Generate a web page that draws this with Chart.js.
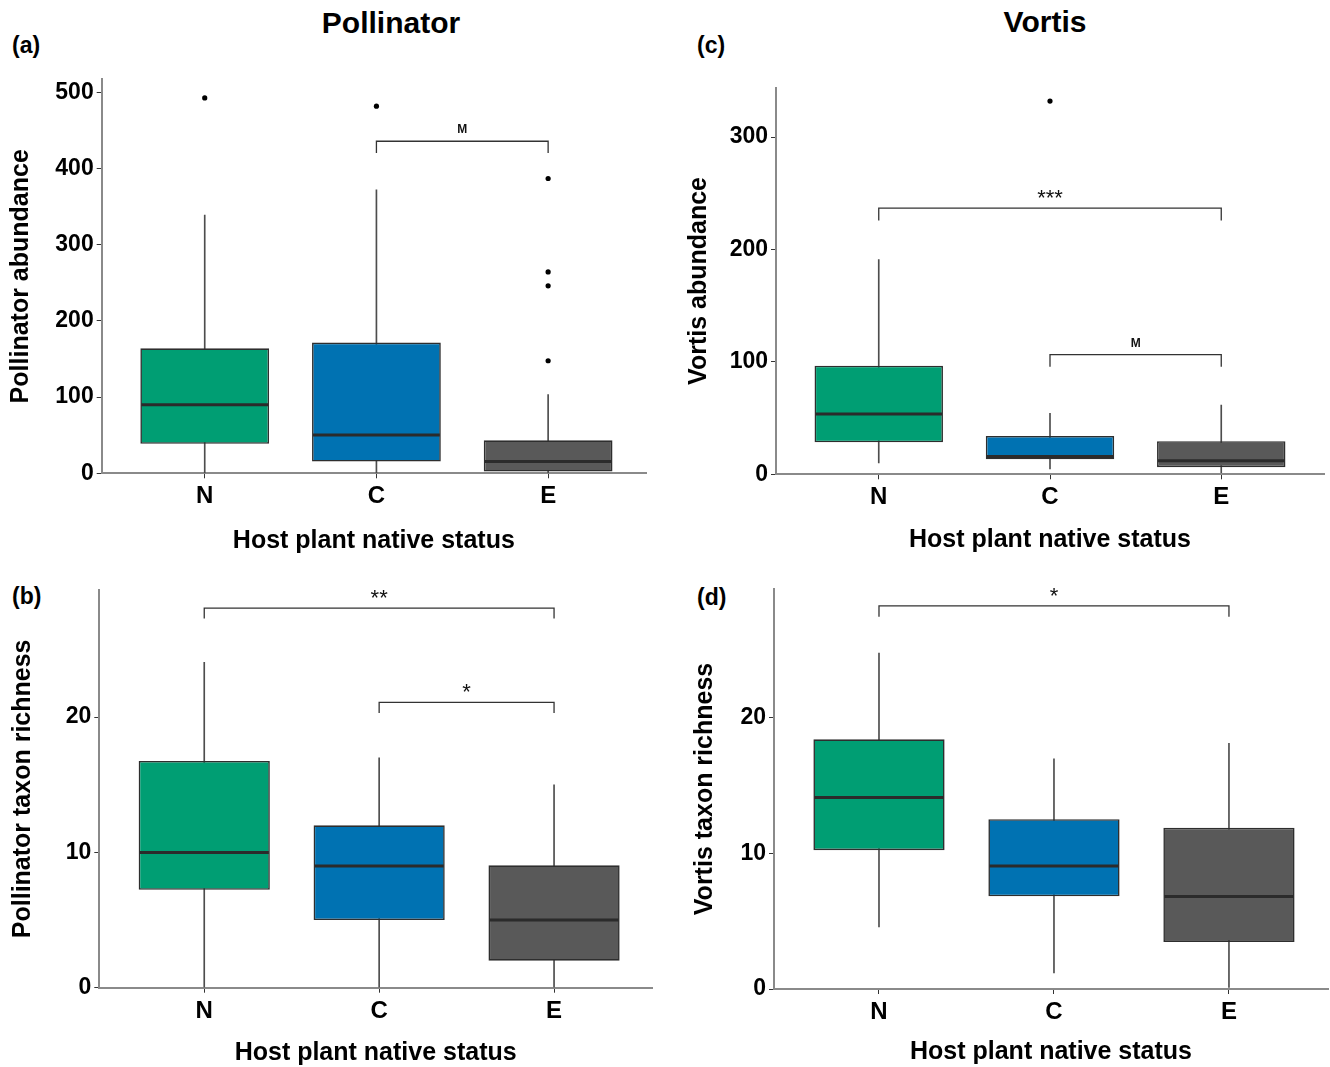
<!DOCTYPE html>
<html>
<head>
<meta charset="utf-8">
<title>Pollinator and Vortis boxplots</title>
<script src="https://cdn.jsdelivr.net/npm/chart.js@4.4.1/dist/chart.umd.min.js"></script>
<style>
  html, body { margin: 0; padding: 0; background: #fff; }
  body { width: 1330px; height: 1067px; position: relative; overflow: hidden; font-family: "Liberation Sans", Arial, sans-serif; color: #000; }
  canvas { position: absolute; }
  .head { position: absolute; font-weight: bold; font-size: 30px; line-height: 30px; transform: translate(-50%, -50%); white-space: nowrap; }
  .tag { position: absolute; font-weight: bold; font-size: 23px; line-height: 23px; transform: translateY(-50%); }
</style>
</head>
<body>
<div class="head" style="left:391px; top:23px">Pollinator</div>
<div class="head" style="left:1045px; top:22px">Vortis</div>
<div class="tag" style="left:12px; top:45px">(a)</div>
<div class="tag" style="left:12px; top:596px">(b)</div>
<div class="tag" style="left:697px; top:45px">(c)</div>
<div class="tag" style="left:697px; top:597px">(d)</div>

<canvas id="chart-a" width="665" height="505" style="left:0px; top:60px"></canvas>
<canvas id="chart-b" width="665" height="497" style="left:0px; top:570px"></canvas>
<canvas id="chart-c" width="665" height="505" style="left:665px; top:60px"></canvas>
<canvas id="chart-d" width="665" height="497" style="left:665px; top:570px"></canvas>

<script>
// values (boxplot stats per host plant status)
const categories = ["N", "C", "E"];

// (a) Pollinator abundance
const polAbundLow = [0, 0, 0];
const polAbundQ1 = [38.7, 15.4, 2.3];
const polAbundMedian = [90, 50.3, 15.4];
const polAbundQ3 = [164, 171.5, 43.3];
const polAbundHigh = [338.8, 371.9, 103.4];
const polAbundOutliers = [[492.5], [481.8], [386.8, 264.2, 246, 147.7]];
const polAbundTicks = [0, 100, 200, 300, 400, 500];
const polAbundSig = [["C", "E", 435.7, 420.3, "M"]];

// (b) Pollinator taxon richness
const polRichLow = [0, 0, 0];
const polRichQ1 = [7.24, 5, 2];
const polRichMedian = [10, 9, 5];
const polRichQ3 = [16.76, 12, 9.05];
const polRichHigh = [24.05, 17, 15];
const polRichOutliers = [[], [], []];
const polRichTicks = [0, 10, 20];
const polRichSig = [["N", "E", 28.06, 27.3, "**"], ["C", "E", 21.1, 20.3, "*"]];

// (c) Vortis abundance
const vorAbundLow = [10.1, 4.7, 1.5];
const vorAbundQ1 = [28.4, 13.3, 6.3];
const vorAbundMedian = [53.7, 15.8, 12];
const vorAbundQ3 = [96.6, 34.1, 29.4];
const vorAbundHigh = [191, 54.3, 61.6];
const vorAbundOutliers = [[], [332], []];
const vorAbundTicks = [0, 100, 200, 300];
const vorAbundSig = [["N", "E", 236.8, 225.8, "***"], ["C", "E", 106.4, 95.7, "M"]];

// (d) Vortis taxon richness
const vorRichLow = [4.58, 1.19, 0.12];
const vorRichQ1 = [10.24, 6.84, 3.47];
const vorRichMedian = [14.13, 9.07, 6.82];
const vorRichQ3 = [18.41, 12.52, 11.9];
const vorRichHigh = [24.78, 16.98, 18.12];
const vorRichOutliers = [[], [], []];
const vorRichTicks = [0, 10, 20];
const vorRichSig = [["N", "E", 28.25, 27.46, "*"]];

const boxColors = ["#009E73", "#0072B2", "#595959"];

Chart.defaults.font.family = "'Liberation Sans', Arial, sans-serif";
Chart.defaults.color = "#000";

const panels = [
  {
    canvas: "chart-a", low: polAbundLow, q1: polAbundQ1, median: polAbundMedian, q3: polAbundQ3,
    high: polAbundHigh, outliers: polAbundOutliers, ticks: polAbundTicks, sig: polAbundSig,
    yMax: 517, xMax: 2.57, plot: { left: 101.7, top: 19.3, right: 646, bottom: 413.3 },
    yTitle: "Pollinator abundance", yTitlePad: 8.5, xTitlePad: 11.5,
  },
  {
    canvas: "chart-b", low: polRichLow, q1: polRichQ1, median: polRichMedian, q3: polRichQ3,
    high: polRichHigh, outliers: polRichOutliers, ticks: polRichTicks, sig: polRichSig,
    yMax: 29.4, xMax: 2.56, plot: { left: 99.3, top: 20, right: 652, bottom: 417.7 },
    yTitle: "Pollinator taxon richness", yTitlePad: 10.5, xTitlePad: 1,
  },
  {
    canvas: "chart-c", low: vorAbundLow, q1: vorAbundQ1, median: vorAbundMedian, q3: vorAbundQ3,
    high: vorAbundHigh, outliers: vorAbundOutliers, ticks: vorAbundTicks, sig: vorAbundSig,
    yMax: 344, xMax: 2.6, plot: { left: 111, top: 27.6, right: 659, bottom: 414.3 },
    yTitle: "Vortis abundance", yTitlePad: 21.5, xTitlePad: 12.5,
  },
  {
    canvas: "chart-d", low: vorRichLow, q1: vorRichQ1, median: vorRichMedian, q3: vorRichQ3,
    high: vorRichHigh, outliers: vorRichOutliers, ticks: vorRichTicks, sig: vorRichSig,
    yMax: 29.5, xMax: 2.566, plot: { left: 109, top: 19, right: 663, bottom: 419 },
    yTitle: "Vortis taxon richness", yTitlePad: 27.5, xTitlePad: 2,
  },
];

// medians and significance brackets, placed through the chart scales
function extras(p) {
  return {
    id: "boxExtras",
    afterDatasetsDraw(chart) {
      const { ctx } = chart;
      const x = chart.scales.x, y = chart.scales.y;
      const boxes = chart.getDatasetMeta(1).data;
      ctx.save();
      ctx.strokeStyle = "#2b2b2b";
      ctx.lineWidth = 3;
      p.median.forEach((m, i) => {
        const bar = boxes[i];
        const py = y.getPixelForValue(m);
        ctx.beginPath();
        ctx.moveTo(bar.x - bar.width / 2 + 1, py);
        ctx.lineTo(bar.x + bar.width / 2 - 1, py);
        ctx.stroke();
      });

      ctx.strokeStyle = "#333";
      ctx.lineWidth = 1.3;
      ctx.fillStyle = "#111";
      ctx.textAlign = "center";
      ctx.textBaseline = "alphabetic";
      p.sig.forEach(([from, to, level, tip, label]) => {
        const x1 = x.getPixelForValue(categories.indexOf(from));
        const x2 = x.getPixelForValue(categories.indexOf(to));
        const yl = y.getPixelForValue(level);
        const yt = y.getPixelForValue(tip);
        ctx.beginPath();
        ctx.moveTo(x1, yt);
        ctx.lineTo(x1, yl);
        ctx.lineTo(x2, yl);
        ctx.lineTo(x2, yt);
        ctx.stroke();
        if (label === "M") {
          ctx.font = "bold 12px 'Liberation Sans', Arial, sans-serif";
          ctx.fillText(label, (x1 + x2) / 2, yl - 8);
        } else {
          ctx.font = "22px 'Liberation Sans', Arial, sans-serif";
          ctx.fillText(label, (x1 + x2) / 2, yl - 3);
        }
      });
      ctx.restore();
    },
  };
}

function drawPanel(p) {
  const canvas = document.getElementById(p.canvas);
  const W = canvas.width, H = canvas.height;
  const area = p.plot;

  new Chart(canvas, {
    type: "bar",
    data: {
      datasets: [
        {
          type: "scatter",
          label: "outliers",
          order: 0,
          data: p.outliers.flatMap((vals, i) => vals.map((v) => ({ x: i, y: v }))),
          pointRadius: 2.6,
          pointBackgroundColor: "#000",
          pointBorderWidth: 0,
        },
        {
          label: "boxes",
          order: 1,
          data: categories.map((c, i) => ({ x: i, y: [p.q1[i], p.q3[i]] })),
          backgroundColor: boxColors,
          borderColor: "#2e2e2e",
          borderWidth: 1.6,
          borderSkipped: false,
          barPercentage: 0.75,
          categoryPercentage: 1,
          grouped: false,
        },
        {
          label: "whiskers",
          order: 2,
          data: categories.map((c, i) => ({ x: i, y: [p.low[i], p.high[i]] })),
          backgroundColor: "#4d4d4d",
          borderWidth: 0,
          barThickness: 1,
          grouped: false,
        },
      ],
    },
    options: {
      responsive: false,
      animation: false,
      events: [],
      layout: { padding: { left: 0, top: area.top, right: W - area.right, bottom: 0 } },
      plugins: { legend: { display: false }, tooltip: { enabled: false } },
      scales: {
        x: {
          type: "linear",
          min: -0.6,
          max: p.xMax,
          offset: false,
          bounds: "data",
          afterBuildTicks: (s) => { s.ticks = categories.map((c, i) => ({ value: i })); },
          afterFit: (s) => { s.height = H - area.bottom; },
          ticks: {
            callback: (v) => categories[v],
            font: { size: 24, weight: "bold" },
            color: "#000",
            padding: 4,
            maxRotation: 0,
            autoSkip: false,
          },
          grid: { display: true, offset: false, drawOnChartArea: false, drawTicks: true, tickLength: 5, color: "#333", lineWidth: 1 },
          border: { display: true, color: "#8a8a8a", width: 2 },
          title: {
            display: true,
            text: "Host plant native status",
            font: { size: 25, weight: "bold", lineHeight: 1 },
            color: "#000",
            padding: { top: 0, bottom: p.xTitlePad },
          },
        },
        y: {
          type: "linear",
          min: 0,
          max: p.yMax,
          bounds: "data",
          afterBuildTicks: (s) => { s.ticks = p.ticks.map((v) => ({ value: v })); },
          afterFit: (s) => { s.width = area.left; },
          ticks: { font: { size: 23, weight: "bold" }, color: "#000", padding: 3 },
          grid: { display: true, drawOnChartArea: false, drawTicks: true, tickLength: 5, color: "#333", lineWidth: 1 },
          border: { display: true, color: "#8a8a8a", width: 2 },
          title: {
            display: true,
            text: p.yTitle,
            font: { size: 25, weight: "bold", lineHeight: 1 },
            color: "#000",
            padding: { top: p.yTitlePad, bottom: 0 },
          },
        },
      },
    },
    plugins: [extras(p)],
  });
}

panels.forEach(drawPanel);
</script>
</body>
</html>
